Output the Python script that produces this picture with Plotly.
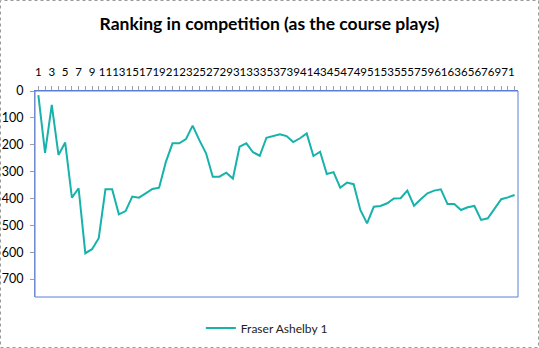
import plotly.graph_objects as go

holes = list(range(1, 73))
ranking = [15, 230, 52, 238, 192, 397, 362, 604, 589, 548,
           366, 366, 459, 447, 393, 397, 381, 365, 360, 265,
           195, 195, 179, 129, 183, 232, 319, 319, 304, 326,
           207, 195, 228, 241, 174, 168, 161, 168, 190, 176,
           158, 242, 226, 309, 302, 360, 341, 347, 443, 493,
           431, 428, 418, 400, 399, 371, 427, 403, 381, 371,
           366, 421, 421, 443, 433, 428, 480, 474, 439, 403,
           396, 387]
x_ticks = list(range(1, 73, 2))
y_ticks = [0, 100, 200, 300, 400, 500, 600, 700]
series_name = "Fraser Ashelby 1"
title_text = "Ranking in competition (as the course plays)"

FONT = "Lato, 'Open Sans', sans-serif"

fig = go.Figure()
fig.add_trace(go.Scatter(
    x=holes, y=ranking, mode="lines", name=series_name,
    line=dict(color="#17B2AA", width=2),
))

W, H = 539, 348
L, R, T, B = 35, 21, 91, 51
pw, ph = W - L - R, H - T - B

def px_x(p):
    return (p - L) / pw

def px_y(p):
    return (H - B - p) / ph

fig.update_layout(
    width=W, height=H,
    margin=dict(l=L, r=R, t=T, b=B, autoexpand=False),
    paper_bgcolor="white", plot_bgcolor="white",
    title=dict(text="<b>" + title_text + "</b>", x=0.5, xanchor="center",
               y=1 - 24 / H, yanchor="middle",
               font=dict(family=FONT, size=17.5, color="#000000")),
    showlegend=True,
    legend=dict(orientation="h", x=0.48, xanchor="center",
                y=px_y(328), yanchor="middle",
                font=dict(family=FONT, size=12, color="#222222")),
    font=dict(family=FONT, color="#000000"),
)

fig.update_xaxes(
    side="top", range=[0.5, 72.5], tickmode="array", automargin=False,
    tickvals=x_ticks, ticktext=[str(v) for v in x_ticks], tickangle=0,
    ticks="outside", ticklen=4, tickcolor="#A0A0A0",
    minor=dict(ticks="outside", ticklen=4, tickcolor="#A0A0A0", dtick=1, tick0=0),
    showline=True, linecolor="#5A7FD8", linewidth=1,
    showgrid=False, zeroline=False,
    tickfont=dict(family=FONT, size=11.5, color="#000000"),
    ticklabelstandoff=5,
)
fig.update_yaxes(
    range=[767, 0], tickmode="array", tickvals=y_ticks, automargin=False,
    ticks="outside", ticklen=4, tickcolor="#A0A0A0",
    showline=True, linecolor="#8A9AC8", linewidth=1,
    showgrid=False, zeroline=False,
    tickfont=dict(family=FONT, size=12.5, color="#000000"),
    ticklabelstandoff=4,
)

# plot area border
fig.add_shape(type="rect", xref="paper", yref="paper", x0=0, x1=1, y0=0, y1=1,
              line=dict(color="#5A7FD8", width=1), layer="above")
# outer chart border
fig.add_shape(type="rect", xref="paper", yref="paper",
              x0=px_x(0.5), x1=px_x(W - 0.5), y0=px_y(H - 0.5), y1=px_y(0.5),
              line=dict(color="#9A9A9A", width=1, dash="dot"), layer="above")

fig.write_html("out.html")
